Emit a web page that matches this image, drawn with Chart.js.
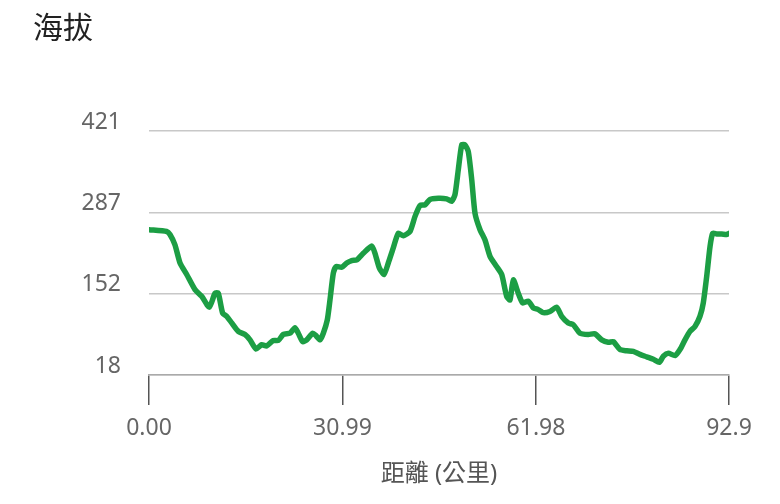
<!DOCTYPE html>
<html>
<head>
<meta charset="utf-8">
<script src="https://cdn.jsdelivr.net/npm/chart.js@4"></script>
<style>
html,body{margin:0;padding:0;background:#fff;}
#wrap{width:780px;height:504px;position:relative;}
</style>
</head>
<body>
<div id="wrap"><canvas id="c" width="780" height="504"></canvas></div>
<script>
const titleText = "海拔";
const xAxisTitle = "距離 (公里)";
const distances = [0,2.84,3.36,4.16,4.97,6.04,7.37,8.44,9.66,10.57,11.10,11.80,12.45,13.25,14.30,15.38,16.18,17.14,18.05,18.85,19.91,20.71,21.51,22.58,23.38,23.91,24.62,25.26,26.22,26.75,27.39,27.92,28.56,28.99,29.52,29.95,30.87,31.67,32.47,33.27,34.32,35.67,36.20,36.89,37.64,38.33,39.13,39.93,40.73,41.80,42.61,43.41,44.21,45.01,46.34,47.68,48.48,49.01,49.54,50.09,50.61,51.14,51.69,52.22,53.02,53.82,54.62,55.69,56.49,57.29,57.82,58.35,59.15,59.86,60.75,61.55,62.35,63.15,64.23,65.30,66.10,67.16,67.96,69.03,70.36,71.44,72.51,73.57,74.37,75.44,76.51,77.57,78.64,79.71,80.78,81.74,82.38,83.18,84.25,85.05,85.85,86.65,87.45,88.25,88.78,89.33,89.86,90.29,90.93,91.73,92.53,92.9];
const elevations = [258,255,250,233,203,184,159,148,130,153,153,120,115,104,90,85,76,61,68,66,75,75,85,87,96,87,73,76,87,83,76,87,109,142,186,197,196,203,207,208,219,231,219,195,184,203,228,252,248,255,280,298,299,308,310,309,305,316,357,398,398,387,341,285,258,241,214,197,184,148,142,175,153,137,140,129,126,121,123,130,115,104,101,87,85,86,76,72,73,60,58,57,52,48,44,39,49,54,50,60,76,90,98,115,137,181,230,252,251,251,250,252];
const xTickValues = [0,30.99,61.98,92.9];
const xTickLabels = ["0.00","30.99","61.98","92.9"];
const yTickValues = [18,152.33,286.67,421];
const yTickLabels = ["18","152","287","421"];

const points = distances.map((d,i)=>({x:d,y:elevations[i]}));
const FONT = "'Noto Sans','Noto Sans CJK TC',sans-serif";

new Chart(document.getElementById('c'), {
  type: 'line',
  data: {
    datasets: [{
      data: points,
      borderColor: '#1c9e44',
      borderWidth: 5.5,
      pointRadius: 0,
      fill: false,
      tension: 0.2,
      borderJoinStyle: 'round',
      borderCapStyle: 'round'
    }]
  },
  options: {
    responsive: false,
    animation: false,
    layout: { padding: { left: 33, right: 51, top: 0, bottom: 0 } },
    plugins: {
      legend: { display: false },
      tooltip: { enabled: false },
      title: {
        display: true,
        text: titleText,
        align: 'start',
        color: '#222',
        font: { family: FONT, size: 30, weight: 'normal' },
        padding: { top: 11, bottom: 84 }
      }
    },
    scales: {
      x: {
        type: 'linear',
        min: 0, max: 92.9,
        afterBuildTicks: s => { s.ticks = xTickValues.map(v=>({value:v})); },
        afterFit: s => { s.height = 129; },
        ticks: {
          autoSkip: false,
          maxRotation: 0,
          padding: 10,
          color: '#666',
          font: { family: FONT, size: 23 },
          callback: (v, i) => xTickLabels[i]
        },
        grid: { drawOnChartArea: false, tickLength: 30, color: '#555', lineWidth: 1.5 },
        border: { display: true, color: '#aaa', width: 1.5 },
        title: {
          display: true,
          text: xAxisTitle,
          color: '#555',
          font: { family: FONT, size: 24 },
          padding: { top: 10, bottom: 15 }
        }
      },
      y: {
        type: 'linear',
        min: 18, max: 421,
        afterBuildTicks: s => { s.ticks = yTickValues.map(v=>({value:v})); },
        afterFit: s => { s.width = 116; },
        ticks: {
          padding: 28,
          labelOffset: -9,
          color: '#666',
          font: { family: FONT, size: 23 },
          callback: (v, i) => yTickLabels[i]
        },
        grid: { color: '#c8c8c8', lineWidth: 1.5, drawTicks: false },
        border: { display: false }
      }
    }
  }
});
</script>
</body>
</html>
